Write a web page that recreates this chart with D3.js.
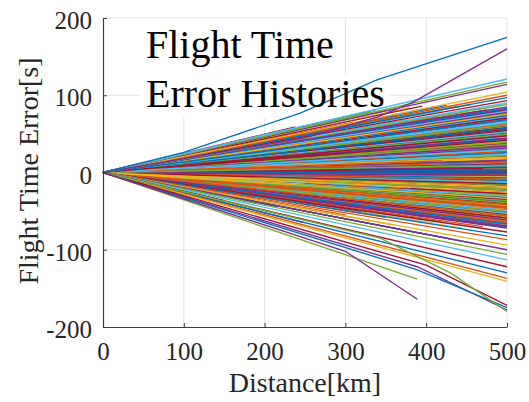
<!DOCTYPE html>
<html>
<head>
<meta charset="utf-8">
<script src="https://cdn.jsdelivr.net/npm/d3@7"></script>
<style>
  body { margin: 0; background: #fff; }
  text { font-family: "Liberation Serif", "Times New Roman", serif; }
</style>
</head>
<body>
<div id="chart"></div>
<script>
// tick values
var xTicks = [0, 100, 200, 300, 400, 500];
var yTicks = [-200, -100, 0, 100, 200];

// MATLAB default colour order
var colorOrder = ["#0072BD", "#D95319", "#EDB120", "#7E2F8E", "#77AC30", "#4DBEEE", "#A2142F"];

// flight time error [s] at 500 km for the histories that reach the end
var band500 = [12, -34, 57, -8, 71, 23, -55, 40, 3, -19, 82, -66, 30, -2, 49, -41, 15, 64, -27, 8,
  76, -12, 35, -60, 52, -5, 19, -38, 68, 1, -23, 44, -70, 27, 60, -15, 6, 79, -48, 38,
  -30, 55, 10, -63, 33, -9, 73, 21, -44, 47, -1, 62, -25, 14, 84, -52, 29, -17, 66, 4,
  -36, 42, -68, 25, 58, -11, 17, 75, -46, 36, -21, 51, 9, -58, 31, -6, 70, 22, -40, 45,
  -3, 61, -29, 13, 80, -50, 28, -14, 65, 2, -32, 41, -72, 24, 56, -10, 18, 74, -43, 37,
  -24, 53, 11, -61, 32, -7, 69, 20, -39, 46, 0, 63, -26, 16, 83, -54, 26, -18, 67, 5,
  -35, 43, -65, 34, 59, -13, 7, 77, -47, 39, -31, 54, -4, -57, 48, 72, -20, 50, -42, 78,
  -16, 81, -37, -64, 81, -22, -53, -33, -45, -28, -56, -49, -59, -67, -62, -71, 66, 58, 74, 70,
  -69, -51, -27.5, 3.5, 27.5, 44.5, 61.5, 79.5, -66.5, -41.5, 18.5, 36.5, 52.5, 70.5, -8.5, -19.5,
  6.5, 23.5, 41.5, 57.5, 75.5, -61.5, -36.5, -14.5, 0.5, 13.5, 31.5, 49.5, 64.5, 83, -46.5, -24.5,
  -3.5, 9.5, 29.5, 47.5, 68.5, -56.5, -33.5, 85];

// sparse histories that still reach 500 km
var outer500 = [88, 90, 93, 97, 100, 104, 114, 117, 121,
  -77, -82, -87, -94, -100, -106, -113, -122, -130, -137, -141];

// histories that stop before 500 km: distance [km] and error [s]
var shortKm = [238, 337, 149, 180, 205, 260, 280, 300, 315, 330, 350, 365, 380, 395, 410, 425, 440, 455, 470,
  290, 310, 345, 360, 385, 405, 420, 450, 475, 270, 320, 375, 415, 460,
  108, 149, 248, 215, 389, 300, 330, 360, 400, 430, 460, 280, 350, 410, 445, 270, 320, 380, 420, 470,
  200, 250, 300, 350, 400, 450, 420, 380, 330, 470];
var shortErr = [59, 81, 36, 42, 50, 63, 67, 72, 74, 78, 80, 83, 84, 86, 85, 87, 86, 88, 84,
  60, 65, 70, 73, 76, 78, 80, 79, 81, 55, 62, 68, 72, 74,
  -36, -36, -65, -44, -138, -55, -62, -68, -80, -86, -92, -46, -58, -66, -72, -40, -50, -58, -64, -70,
  10, -15, 25, -5, 40, -30, 15, -20, 45, 5];

// bent extreme histories: [distance km, error s] points
var topBlue = [[0, 0], [100, 26], [244, 77], [339, 120], [500, 175]];
var topPurple = [[0, 0], [250, 45], [340, 72], [384, 91], [500, 160]];
var lowPurple = [[0, 0], [300, -102], [389, -164]];
var lowBent1 = [[0, 0], [389, -122], [500, -178]];
var lowBent2 = [[0, 0], [389, -126], [500, -175]];
var lowBent3 = [[0, 0], [400, -120], [500, -172]];
var lowBent4 = [[0, 0], [343, -85], [430, -130], [500, -180]];

var W = 529, H = 402;
var x = d3.scaleLinear().domain([0, 500]).range([103, 507]);
var y = d3.scaleLinear().domain([-200, 200]).range([327, 18]);

var svg = d3.select("#chart").append("svg")
  .attr("width", W).attr("height", H);

// grid
var grid = svg.append("g");
grid.selectAll(".gx").data(xTicks.slice(1)).enter().append("line")
  .attr("x1", d => x(d)).attr("x2", d => x(d))
  .attr("y1", y(200)).attr("y2", y(-200))
  .style("stroke", "#e3e3e3").style("stroke-width", 1);
grid.selectAll(".gy").data(yTicks.slice(1)).enter().append("line")
  .attr("x1", x(0)).attr("x2", x(500))
  .attr("y1", d => y(d)).attr("y2", d => y(d))
  .style("stroke", "#e3e3e3").style("stroke-width", 1);

// white boxes behind the annotation text
svg.append("rect").attr("x", 140).attr("y", 19).attr("width", 200).attr("height", 99).style("fill", "#fff");
svg.append("rect").attr("x", 140).attr("y", 75).attr("width", 250).attr("height", 43).style("fill", "#fff");

// band lines, short lines mixed in so the colours blend
var bandLines = band500.map(e => [[0, 0], [500, e]]);
var shortLines = shortKm.map((k, i) => [[0, 0], [k, shortErr[i]]]);
var outerLines = outer500.map(e => [[0, 0], [500, e]]);

var mixed = [];
var bi = 0, si = 0;
while (bi < bandLines.length || si < shortLines.length) {
  for (var r = 0; r < 3 && bi < bandLines.length; r++) mixed.push(bandLines[bi++]);
  if (si < shortLines.length) mixed.push(shortLines[si++]);
}
mixed = mixed.concat(outerLines);
mixed.push(lowBent1, lowBent2, lowBent3, lowBent4, lowPurple, topPurple, topBlue);

var line = d3.line().x(d => x(d[0])).y(d => y(d[1]));

var n = mixed.length;
var colorFix = {};
colorFix[n - 1] = "#0072BD";
colorFix[n - 2] = "#7E2F8E";
colorFix[n - 3] = "#7E2F8E";
colorFix[n - 4] = "#77AC30";
colorFix[n - 5] = "#A2142F";
colorFix[n - 6] = "#0072BD";
colorFix[n - 7] = "#7E2F8E";

svg.append("g").selectAll("path")
  .data(mixed)
  .enter().append("path")
    .attr("d", line)
    .style("fill", "none")
    .style("stroke", (d, i) => colorFix[i] || colorOrder[i % 7])
    .style("stroke-width", 1.35);

// axes
var xAxis = svg.append("g")
  .attr("transform", "translate(0," + y(-200) + ")")
  .call(d3.axisBottom(x).tickValues(xTicks).tickSizeInner(-4).tickSizeOuter(0).tickFormat(d3.format("d")));
xAxis.selectAll("text").attr("y", 33).attr("dy", null)
  .style("font-size", "25px").style("fill", "#262626")
  .style("font-family", "Liberation Serif");

var yAxis = svg.append("g")
  .attr("transform", "translate(" + x(0) + ",0)")
  .call(d3.axisLeft(y).tickValues(yTicks).tickSizeInner(-4).tickSizeOuter(0).tickFormat(d => d < 0 ? "-" + Math.abs(d) : d));
yAxis.selectAll("text").attr("x", -11).attr("dy", "0.42em")
  .style("font-size", "25px").style("fill", "#262626")
  .style("font-family", "Liberation Serif");

svg.selectAll(".domain").style("stroke", "#404040").style("stroke-width", 1.2);
svg.selectAll(".tick line").style("stroke", "#404040");

// axis labels
svg.append("text")
  .attr("x", 305).attr("y", 392)
  .attr("text-anchor", "middle")
  .style("font-size", "28px").style("fill", "#262626")
  .text("Distance[km]");

svg.append("text")
  .attr("transform", "translate(38,171) rotate(-90)")
  .attr("text-anchor", "middle")
  .style("font-size", "28px").style("fill", "#262626")
  .text("Flight Time Error[s]");

// annotation
svg.append("text").attr("x", 146).attr("y", 58)
  .style("font-size", "40px").style("fill", "#000")
  .text("Flight Time");
svg.append("text").attr("x", 146).attr("y", 107)
  .style("font-size", "40px").style("fill", "#000")
  .text("Error Histories");
</script>
</body>
</html>
